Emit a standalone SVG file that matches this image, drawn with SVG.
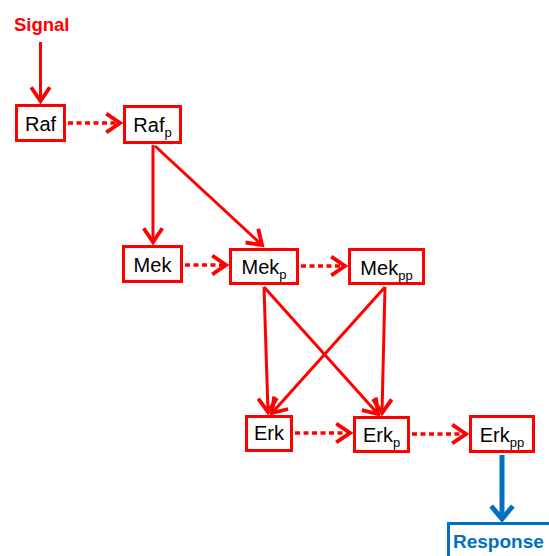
<svg xmlns="http://www.w3.org/2000/svg" width="549" height="556" viewBox="0 0 549 556">
<style>
.box{fill:#fff;stroke:#ff0000;stroke-width:3}
.lbl{font-family:"Liberation Sans",Arial,sans-serif;font-size:20px;fill:#000;text-anchor:middle}
.sub{font-size:13px}
.con{fill:none;stroke:#ff0000;stroke-width:3}
.dot{stroke-dasharray:5 3.5;stroke-width:3.5}
</style>
<defs>
<marker id="ah" markerUnits="userSpaceOnUse" markerWidth="20" markerHeight="22" refX="14" refY="10" orient="auto" viewBox="0 0 17 20">
<path d="M1.5,1.5 L14,10 L1.5,18.5" fill="none" stroke="#ff0000" stroke-width="3.5"/>
</marker>
<marker id="ahb" markerUnits="userSpaceOnUse" markerWidth="24" markerHeight="26" refX="14" refY="12" orient="auto" viewBox="0 0 18 24">
<path d="M2,2 L14,12 L2,22" fill="none" stroke="#0070c0" stroke-width="4.5"/>
</marker>
</defs>
<text x="14" y="31" style="font-family:'Liberation Sans',Arial,sans-serif;font-size:18.5px;font-weight:bold;fill:#ff0000">Signal</text>
<g id="connectors">
<line class="con" x1="40.5" y1="42" x2="40.5" y2="101" marker-end="url(#ah)"/>
<line class="con dot" x1="68" y1="123" x2="120" y2="123" marker-end="url(#ah)"/>
<line class="con" x1="153" y1="145" x2="153" y2="242" marker-end="url(#ah)"/>
<line class="con" x1="155" y1="146" x2="262" y2="245" marker-end="url(#ah)"/>
<line class="con dot" x1="185" y1="265" x2="226" y2="265" marker-end="url(#ah)"/>
<line class="con dot" x1="301" y1="266" x2="345" y2="266" marker-end="url(#ah)"/>
<line class="con" x1="264" y1="287" x2="268" y2="412" marker-end="url(#ah)"/>
<line class="con" x1="264" y1="287" x2="378" y2="414" marker-end="url(#ah)"/>
<line class="con" x1="385" y1="287" x2="272" y2="413" marker-end="url(#ah)"/>
<line class="con" x1="385" y1="287" x2="382" y2="413" marker-end="url(#ah)"/>
<line class="con dot" x1="295" y1="433" x2="350" y2="433" marker-end="url(#ah)"/>
<line class="con dot" x1="412" y1="434" x2="466" y2="434" marker-end="url(#ah)"/>
<line x1="502" y1="455" x2="502" y2="519" fill="none" stroke="#0070c0" stroke-width="5" marker-end="url(#ahb)"/>
</g>
<g id="raf"><rect class="box" x="16.5" y="105.5" width="48" height="35"/><text class="lbl" x="40.5" y="131">Raf</text></g>
<g id="rafp"><rect class="box" x="124.5" y="106.5" width="56" height="36"/><text class="lbl" x="152.5" y="132">Raf<tspan class="sub" dy="5">p</tspan></text></g>
<g id="mek"><rect class="box" x="123.5" y="246.5" width="58" height="35"/><text class="lbl" x="152.5" y="272">Mek</text></g>
<g id="mekp"><rect class="box" x="230.5" y="249.5" width="67" height="34"/><text class="lbl" x="264" y="274">Mek<tspan class="sub" dy="5">p</tspan></text></g>
<g id="mekpp"><rect class="box" x="349.5" y="249.5" width="74" height="34"/><text class="lbl" x="386.5" y="275">Mek<tspan class="sub" dy="5">pp</tspan></text></g>
<g id="erk"><rect class="box" x="246.5" y="416.5" width="45" height="34"/><text class="lbl" x="269" y="440">Erk</text></g>
<g id="erkp"><rect class="box" x="354.5" y="417.5" width="54" height="34"/><text class="lbl" x="381.5" y="442">Erk<tspan class="sub" dy="5">p</tspan></text></g>
<g id="erkpp"><rect class="box" x="470.5" y="416.5" width="63" height="35"/><text class="lbl" x="502" y="442">Erk<tspan class="sub" dy="5">pp</tspan></text></g>
<g id="response"><rect x="448.5" y="523.5" width="110" height="50" fill="#fff" stroke="#0070c0" stroke-width="3"/><text x="453" y="548" style="font-family:'Liberation Sans',Arial,sans-serif;font-size:19px;font-weight:bold;fill:#0070c0">Response</text></g>
</svg>
